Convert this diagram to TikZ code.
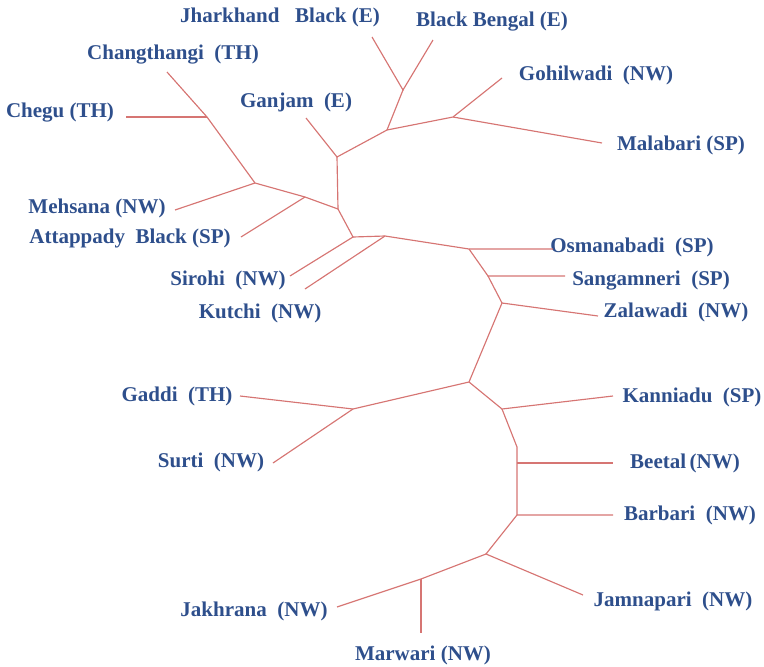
\documentclass[tikz,border=0pt]{standalone}
\usepackage{fontspec}
\setmainfont{Liberation Serif}
\definecolor{branchred}{HTML}{D67573}
\definecolor{breedblue}{HTML}{2E4F8C}
\tikzset{
  branch/.style={draw=branchred,line width=1.15pt},
  breed/.style={text=breedblue,font=\fontsize{21}{24}\selectfont\bfseries,inner sep=0pt}
}
\begin{document}
\begin{tikzpicture}[x=1pt,y=-1pt]
        \useasboundingbox (0,0) rectangle (764,667);

        % inner joints of the tree
        \coordinate (jD) at (403,90);
        \coordinate (jE) at (387,130);
        \coordinate (jF) at (453,117);
        \coordinate (jG) at (337,157);
        \coordinate (jA) at (255,183);
        \coordinate (jCh) at (207,117);
        \coordinate (jAt) at (305,197);
        \coordinate (jB) at (338,209);
        \coordinate (jC) at (353,237);
        \coordinate (jKu) at (385,236);
        \coordinate (jO) at (469,249);
        \coordinate (jS) at (488,276);
        \coordinate (jH) at (502,303);
        \coordinate (jI) at (469,382);
        \coordinate (jJ) at (353,409);
        \coordinate (jK) at (502,409);
        \coordinate (jL) at (517,447);
        \coordinate (jBe) at (517,463);
        \coordinate (jM) at (517,515);
        \coordinate (jN) at (486,554);
        \coordinate (jP) at (421,579);

        % leaf ends
        \coordinate (lJh) at (372,37);
        \coordinate (lBB) at (433,40);
        \coordinate (lGo) at (502,78);
        \coordinate (lMa) at (602,143);
        \coordinate (lGa) at (306,118);
        \coordinate (lCt) at (167,72);
        \coordinate (lCg) at (126,117);
        \coordinate (lMe) at (175,210);
        \coordinate (lAt) at (241,237);
        \coordinate (lSi) at (290,276);
        \coordinate (lKu) at (305,289);
        \coordinate (lOs) at (553,249);
        \coordinate (lSa) at (565,276);
        \coordinate (lZa) at (598,316);
        \coordinate (lGd) at (240,396);
        \coordinate (lSu) at (273,463);
        \coordinate (lKa) at (613,396);
        \coordinate (lBt) at (613,463);
        \coordinate (lBa) at (613,515);
        \coordinate (lJa) at (583,595);
        \coordinate (lJk) at (337,607);
        \coordinate (lMw) at (421,633);

        % breed names
        \node[breed] (jharkhand) at (280,17) {Jharkhand\ \ \ Black (E)};
        \node[breed] (blackbengal) at (492,22) {Black Bengal (E)};
        \node[breed] (changthangi) at (173,55) {Changthangi\ \ (TH)};
        \node[breed] (gohilwadi) at (596,75) {Gohilwadi\ \ (NW)};
        \node[breed] (ganjam) at (296,102) {Ganjam\ \ (E)};
        \node[breed] (chegu) at (60,113) {Chegu (TH)};
        \node[breed] (malabari) at (681,145) {Malabari (SP)};
        \node[breed] (mehsana) at (97,208) {Mehsana (NW)};
        \node[breed] (attappady) at (130,238) {Attappady\ \ Black (SP)};
        \node[breed] (osmanabadi) at (632,247) {Osmanabadi\ \ (SP)};
        \node[breed] (sirohi) at (228,280) {Sirohi\ \ (NW)};
        \node[breed] (sangamneri) at (651,281) {Sangamneri\ \ (SP)};
        \node[breed] (kutchi) at (260,313) {Kutchi\ \ (NW)};
        \node[breed] (zalawadi) at (676,312) {Zalawadi\ \ (NW)};
        \node[breed] (gaddi) at (177,396) {Gaddi\ \ (TH)};
        \node[breed] (kanniadu) at (692,397) {Kanniadu\ \ (SP)};
        \node[breed] (surti) at (211,462) {Surti\ \ (NW)};
        \node[breed] (beetal) at (685,463) {Beetal\,(NW)};
        \node[breed] (barbari) at (690,515) {Barbari\ \ (NW)};
        \node[breed] (jamnapari) at (673,601) {Jamnapari\ \ (NW)};
        \node[breed] (jakhrana) at (254,611) {Jakhrana\ \ (NW)};
        \node[breed] (marwari) at (423,655) {Marwari (NW)};

        % upper part
        \draw[branch] (lJh) -- (jD) -- (lBB);
        \draw[branch] (jD) -- (jE) -- (jF) -- (lGo);
        \draw[branch] (jF) -- (lMa);
        \draw[branch] (jE) -- (jG) -- (lGa);
        \draw[branch] (jG) -- (jB);
        \draw[branch] (lCt) -- (jCh) -- (jA) -- (jAt) -- (jB);
        \draw[branch] (lCg) -- (jCh);
        \draw[branch] (lMe) -- (jA);
        \draw[branch] (lAt) -- (jAt);
        \draw[branch] (jB) -- (jC) -- (lSi);
        \draw[branch] (jC) -- (jKu) -- (jO) -- (lOs);
        \draw[branch] (lKu) -- (jKu);
        \draw[branch] (jO) -- (jS) -- (lSa);
        \draw[branch] (jS) -- (jH) -- (lZa);

        % lower part
        \draw[branch] (jH) -- (jI) -- (jJ) -- (lGd);
        \draw[branch] (jJ) -- (lSu);
        \draw[branch] (jI) -- (jK) -- (lKa);
        \draw[branch] (jK) -- (jL) -- (jBe) -- (jM) -- (lBa);
        \draw[branch] (jBe) -- (lBt);
        \draw[branch] (jM) -- (jN) -- (lJa);
        \draw[branch] (jN) -- (jP) -- (lJk);
        \draw[branch] (jP) -- (lMw);
\end{tikzpicture}
\end{document}
